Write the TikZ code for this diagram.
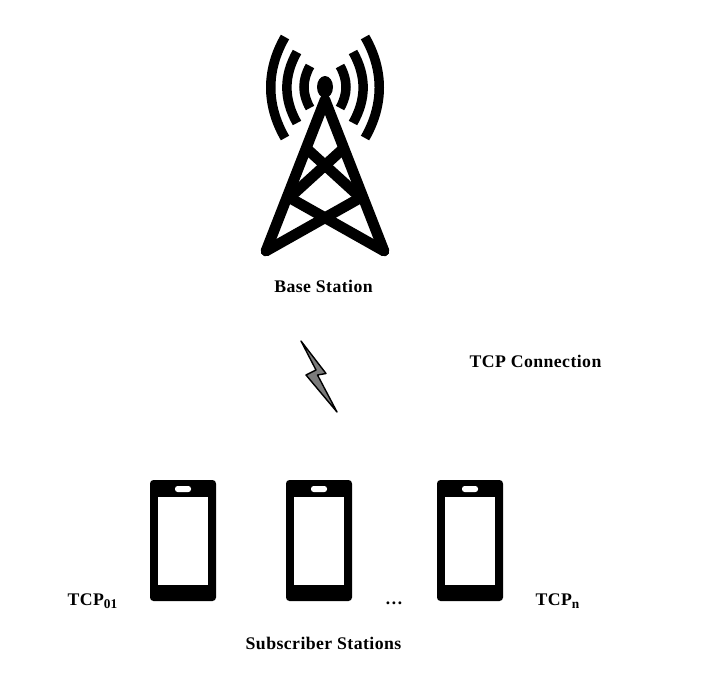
\documentclass[tikz,border=0pt]{standalone}
\usepackage{fontspec}
\setmainfont{Liberation Serif}
\newcommand{\subtxt}[1]{\raisebox{-1.6pt}{\fontsize{7.6}{9}\selectfont\addfontfeature{LetterSpace=0} #1}}
\tikzset{
  towerbar/.style={line width=6.1pt,line cap=round,line join=round},
  wavearc/.style={line width=5.4pt},
  lab/.style={font=\fontsize{10.1}{12}\selectfont\bfseries\addfontfeature{LetterSpace=2.4},inner sep=0pt}
}
\begin{document}
\begin{tikzpicture}[x=0.02cm,y=-0.02cm]
\useasboundingbox (0,0) rectangle (716,677);
\fill (325,87) ellipse (8 and 11);
\draw[towerbar] (266,251) -- (325,100) -- (384,251);
\draw[towerbar,line cap=butt] (306,148) -- (362,199);
\draw[towerbar,line cap=butt] (344,148) -- (288,199);
\draw[towerbar] (290,198) -- (384,251);
\draw[towerbar] (360,198) -- (266,251);
\foreach \s in {-1,1}
{
  \draw[wavearc] (325+\s*40,37) .. controls (325+\s*59,70) and (325+\s*59,105) .. (325+\s*40,138);
  \draw[wavearc] (325+\s*28,52) .. controls (325+\s*41.5,76) and (325+\s*41.5,99) .. (325+\s*28,123);
  \draw[wavearc] (325+\s*15,66) .. controls (325+\s*23,80) and (325+\s*23,94) .. (325+\s*15,108);
}
\draw[fill=gray!85!black!90,line width=0.8pt,line join=round] (301,341) -- (326,373.5) -- (317.5,375) -- (337,412) -- (306,375) -- (316,370) -- cycle;
\foreach \x in {150,286,437}
{
  \fill[rounded corners=2pt] (\x,480) rectangle (\x+66,601);
  \fill[white] (\x+8,497) rectangle (\x+58,585);
  \fill[white,rounded corners=1.5pt] (\x+25,486) rectangle (\x+41,492);
}
\node[lab] (bs) at (323.5,286) {Base Station};
\node[lab] (conn) at (535.5,361) {TCP Connection};
\node[lab] (ss) at (323.5,643) {Subscriber Stations};
\node[lab] (tcpa) at (92.5,601) {TCP\subtxt{01}};
\node[lab] (dots) at (394,603) {\dots};
\node[lab] (tcpb) at (557.5,601) {TCP\subtxt{n}};
\end{tikzpicture}
\end{document}
